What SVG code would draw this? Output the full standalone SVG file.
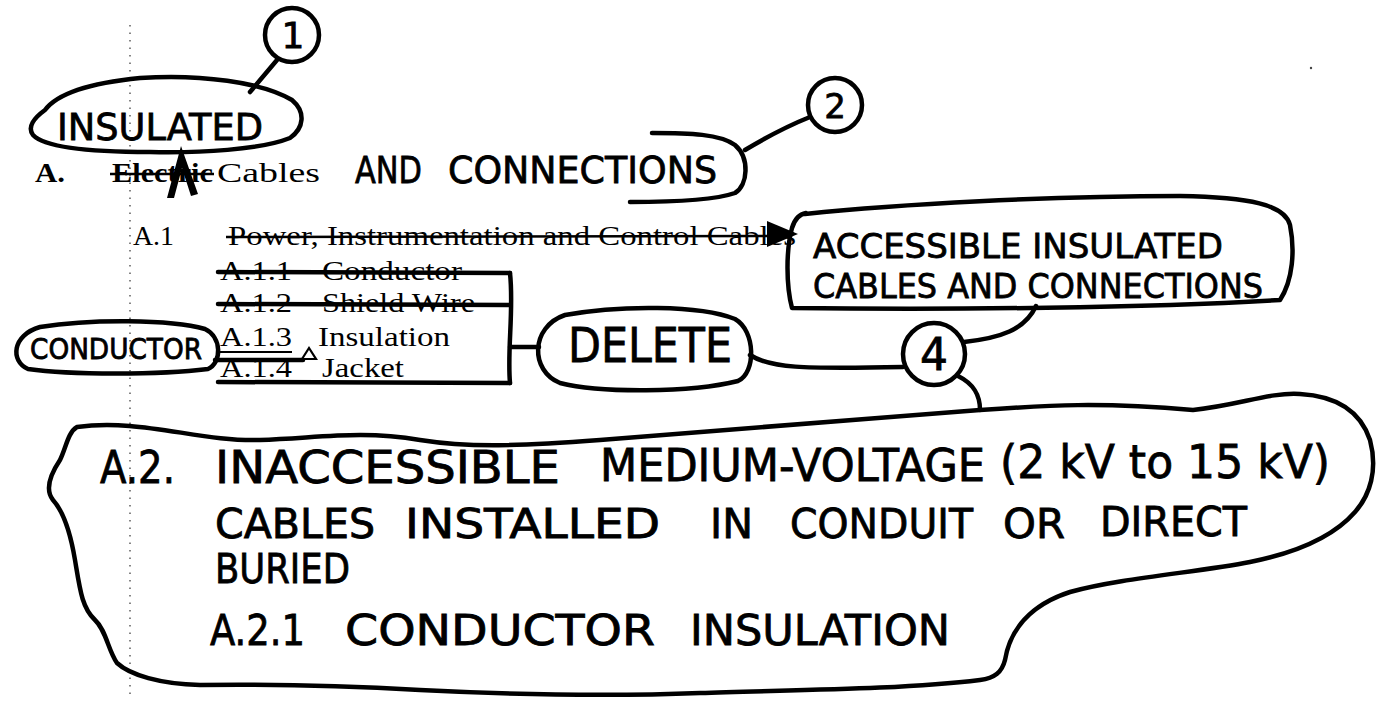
<svg xmlns="http://www.w3.org/2000/svg" width="1377" height="710" viewBox="0 0 1377 710">
<style>
.ink{fill:none;stroke:#000;stroke-width:4.5;stroke-linecap:round;stroke-linejoin:round}
.hand{font-family:"DejaVu Sans","Liberation Sans",sans-serif;fill:#000;stroke:#000;stroke-width:0.8}
.type{font-family:"Liberation Serif","Times New Roman",serif;fill:#000;font-size:28px}
.strike{fill:none;stroke:#000;stroke-width:2.4}
.c1{font-size:44px}
.c2{font-size:40px}
</style>
<rect width="1377" height="710" fill="#fff"/>
<line x1="130" y1="25" x2="130" y2="700" stroke="#444" stroke-width="1.3" stroke-dasharray="1.5 6"/>
<circle cx="1311" cy="68" r="1.2" fill="#444"/>

<g id="connectors">
  <path class="ink" d="M277 60 L250 92"/>
  <path class="ink" d="M745 150 C770 135 790 125 810 117"/>
  <path class="strike" d="M226 237 L770 236"/>
  <path d="M767 221 L798 234 L767 247 Z" fill="#000"/>
  <path class="ink" d="M218 272 L510 273 M218 304 L510 305 M218 382 L510 383"/>
  <path class="ink" d="M510 273 C514 310 507 350 510 383"/>
  <path class="ink" d="M510 347 L539 347"/>
  <path class="ink" d="M215 360 L303 360"/>
  <path d="M302 359 L309 348 L316 359 Z" fill="none" stroke="#000" stroke-width="2.2"/>
  <path class="ink" d="M750 355 C770 368 800 369 903 367"/>
  <path class="ink" d="M964 342 C1000 338 1025 330 1036 306"/>
  <path class="ink" d="M958 376 C974 384 980 395 980 410"/>
  <path d="M181 146 L167 198 L174 198 L182 168 L191 196 L198 194 Z" fill="#000"/>
</g>

<g id="circle1">
  <circle class="ink" cx="292" cy="35" r="27"/>
  <text class="hand" x="293" y="48" font-size="36" text-anchor="middle">1</text>
</g>

<g id="insulated">
  <path class="ink" d="M45 110 C60 90 100 82 140 78 C200 74 262 82 292 100 C306 112 304 128 290 138 C260 150 200 153 150 152 C90 152 45 148 33 135 C27 127 34 118 45 110 Z"/>
  <text class="hand" x="57" y="140" font-size="38" textLength="206" lengthAdjust="spacingAndGlyphs">INSULATED</text>
</g>

<g id="headingA">
  <text class="type" x="35" y="182" font-weight="bold" textLength="30" lengthAdjust="spacingAndGlyphs">A.</text>
  <text class="type" x="112" y="182" font-weight="bold" textLength="101" lengthAdjust="spacingAndGlyphs">Electric</text>
  <line class="strike" x1="110" y1="174" x2="214" y2="174"/>
  <text class="type" x="217" y="182" font-size="30" textLength="103" lengthAdjust="spacingAndGlyphs">Cables</text>
  <text class="hand" x="355" y="183" font-size="38" textLength="67" lengthAdjust="spacingAndGlyphs">AND</text>
  <text class="hand" x="448" y="183" font-size="38" textLength="269" lengthAdjust="spacingAndGlyphs">CONNECTIONS</text>
  <path class="ink" d="M652 133 C690 133 720 134 735 145 C750 158 748 185 735 193 C715 200 670 202 630 202"/>
</g>

<g id="circle2">
  <circle class="ink" cx="835" cy="105" r="27"/>
  <text class="hand" x="835" y="118" font-size="34" text-anchor="middle">2</text>
</g>

<g id="a1">
  <text class="type" x="133" y="245" textLength="41" lengthAdjust="spacingAndGlyphs">A.1</text>
  <text class="type" x="228" y="245" textLength="568" lengthAdjust="spacingAndGlyphs">Power, Instrumentation and Control Cables</text>
</g>

<g id="accessible">
  <path class="ink" d="M805 214 C900 204 1050 196 1180 196 C1250 197 1285 205 1290 225 C1295 250 1293 280 1280 300 C1150 308 950 310 792 308 C786 285 786 250 792 228 C795 218 800 214 806 213"/>
  <text class="hand" x="813" y="258" font-size="34" textLength="410" lengthAdjust="spacingAndGlyphs">ACCESSIBLE INSULATED</text>
  <text class="hand" x="813" y="298" font-size="34" textLength="450" lengthAdjust="spacingAndGlyphs">CABLES AND CONNECTIONS</text>
</g>

<g id="a11">
  <text class="type" x="220" y="280" textLength="72" lengthAdjust="spacingAndGlyphs">A.1.1</text>
  <text class="type" x="322" y="280" textLength="140" lengthAdjust="spacingAndGlyphs">Conductor</text>
</g>
<g id="a12">
  <text class="type" x="220" y="312" textLength="72" lengthAdjust="spacingAndGlyphs">A.1.2</text>
  <text class="type" x="322" y="312" textLength="153" lengthAdjust="spacingAndGlyphs">Shield Wire</text>
</g>
<g id="a13">
  <text class="type" x="220" y="346" textLength="72" lengthAdjust="spacingAndGlyphs">A.1.3</text>
  <line x1="220" y1="352" x2="292" y2="352" stroke="#000" stroke-width="2"/>
  <text class="type" x="318" y="346" textLength="132" lengthAdjust="spacingAndGlyphs">Insulation</text>
</g>
<g id="a14">
  <text class="type" x="220" y="377" textLength="72" lengthAdjust="spacingAndGlyphs">A.1.4</text>
  <text class="type" x="322" y="377" textLength="82" lengthAdjust="spacingAndGlyphs">Jacket</text>
</g>

<g id="conductor">
  <path class="ink" d="M40 327 C90 319 170 319 205 329 C222 337 222 363 208 369 C160 375 70 375 28 369 C10 361 12 335 40 327 Z"/>
  <text class="hand" x="30" y="359" font-size="28" textLength="172" lengthAdjust="spacingAndGlyphs">CONDUCTOR</text>
</g>

<g id="delete">
  <path class="ink" d="M565 315 C620 305 700 305 735 319 C756 331 756 373 738 381 C690 393 600 393 560 383 C530 371 530 327 565 315 Z"/>
  <text class="hand" x="568" y="362" font-size="48" textLength="164" lengthAdjust="spacingAndGlyphs">DELETE</text>
</g>

<g id="circle4">
  <circle class="ink" cx="934" cy="354" r="31"/>
  <text class="hand" x="934" y="370" font-size="44" text-anchor="middle">4</text>
</g>

<g id="cloud">
  <path class="ink" d="M77 427 C140 418 200 442 260 440 C320 438 360 430 420 440 C470 448 520 446 600 440 C700 432 850 420 980 410 C1050 405 1100 402 1193 410 C1240 405 1270 392 1300 394 C1335 396 1360 410 1370 440 C1378 470 1370 495 1355 512 C1335 535 1300 552 1250 562 C1200 572 1120 578 1070 592 C1030 605 1010 630 1005 660 C1002 672 995 678 980 680 C900 690 780 690 700 693 C600 697 500 694 420 690 C330 685 270 684 200 685 C160 684 130 675 117 663 C108 650 106 630 95 620 C82 608 80 590 75 560 C70 530 62 510 53 500 C45 490 50 475 60 460 C66 448 68 432 77 427 Z"/>
  <text class="hand c1" x="100" y="483" textLength="75" lengthAdjust="spacingAndGlyphs">A.2.</text>
  <text class="hand c1" x="215" y="483" textLength="345" lengthAdjust="spacingAndGlyphs">INACCESSIBLE</text>
  <text class="hand c1" x="600" y="481" textLength="385" lengthAdjust="spacingAndGlyphs">MEDIUM-VOLTAGE</text>
  <text class="hand" x="1000" y="478" font-size="46" textLength="330" lengthAdjust="spacingAndGlyphs">(2 kV to 15 kV)</text>
  <text class="hand c2" x="215" y="538" textLength="160" lengthAdjust="spacingAndGlyphs">CABLES</text>
  <text class="hand c2" x="405" y="538" textLength="255" lengthAdjust="spacingAndGlyphs">INSTALLED</text>
  <text class="hand c2" x="710" y="538" textLength="43" lengthAdjust="spacingAndGlyphs">IN</text>
  <text class="hand c2" x="790" y="538" textLength="183" lengthAdjust="spacingAndGlyphs">CONDUIT</text>
  <text class="hand c2" x="1003" y="538" textLength="62" lengthAdjust="spacingAndGlyphs">OR</text>
  <text class="hand c2" x="1100" y="536" textLength="147" lengthAdjust="spacingAndGlyphs">DIRECT</text>
  <text class="hand c2" x="215" y="583" textLength="135" lengthAdjust="spacingAndGlyphs">BURIED</text>
  <text class="hand" x="210" y="645" font-size="42" textLength="95" lengthAdjust="spacingAndGlyphs">A.2.1</text>
  <text class="hand" x="345" y="645" font-size="42" textLength="310" lengthAdjust="spacingAndGlyphs">CONDUCTOR</text>
  <text class="hand" x="690" y="645" font-size="42" textLength="260" lengthAdjust="spacingAndGlyphs">INSULATION</text>
</g>
</svg>
